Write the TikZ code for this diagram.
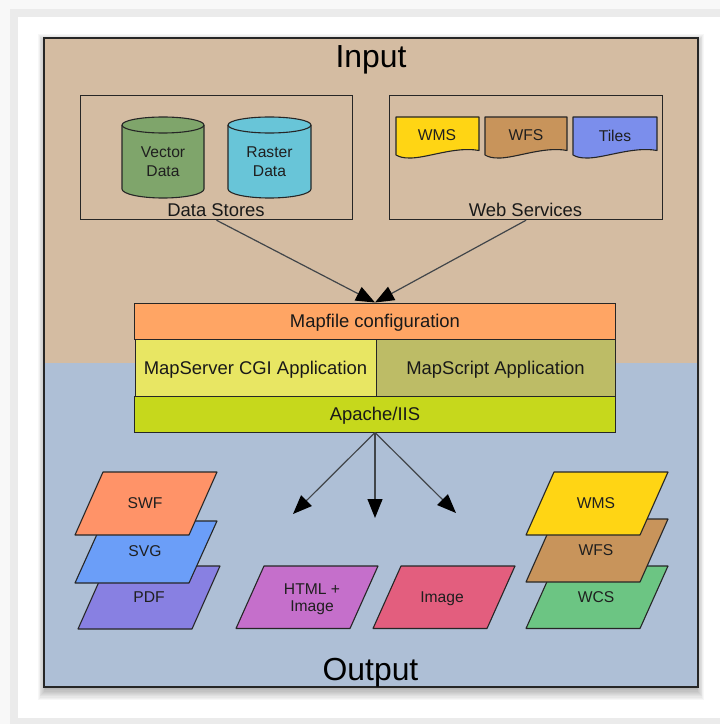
\documentclass[tikz,border=0pt]{standalone}
\usepackage{fontspec}
\setmainfont{Liberation Sans}
\usetikzlibrary{arrows.meta}
\definecolor{pagegray}{HTML}{F8F8F8}
\definecolor{bandgray}{HTML}{EBEBEB}
\definecolor{tanbg}{HTML}{D4BCA2}
\definecolor{bluebg}{HTML}{AEBFD6}
\definecolor{inkc}{HTML}{262626}
\definecolor{cvector}{HTML}{7FA56B}
\definecolor{craster}{HTML}{68C5D8}
\definecolor{cwms}{HTML}{FFD514}
\definecolor{cwfs}{HTML}{C8945B}
\definecolor{ctiles}{HTML}{7B8EEC}
\definecolor{cswf}{HTML}{FF9368}
\definecolor{csvg}{HTML}{6B9EF8}
\definecolor{cpdf}{HTML}{8880E2}
\definecolor{chtml}{HTML}{C56FCB}
\definecolor{cimage}{HTML}{E35E7E}
\definecolor{cwcs}{HTML}{6CC583}
\definecolor{cmapfile}{HTML}{FFA564}
\definecolor{ccgi}{HTML}{E8E663}
\definecolor{cscript}{HTML}{BDBC66}
\definecolor{capache}{HTML}{C6D81C}
\newcommand{\pgram}[8]{% name, xbl, ybottom, ytop, fill, xtext, ytext, text
  \draw[shapeline,fill=#5] (#2,#3) -- (#2+114,#3) -- (#2+142,#4) -- (#2+28,#4) -- cycle;
  \node[smalltext] (#1) at (#6,#7) {#8};}
\newcommand{\cyl}[8]{% name, xl, xr, ytop, ybottom, fill, text line 1, text line 2
  \draw[shapeline,fill=#6] (#2,#4+8) -- (#2,#5-9) arc[x radius={(#3-#2)/2},y radius=9,start angle=180,end angle=0] -- (#3,#4+8) arc[x radius={(#3-#2)/2},y radius=8,start angle=0,end angle=-180] -- cycle;
  \draw[shapeline] (#2,#4+8) arc[x radius={(#3-#2)/2},y radius=8,start angle=180,end angle=0];
  \node[smalltext,align=center,font=\fontsize{15.7}{19}\selectfont] (#1) at ({(#2+#3)/2},161.5) {#7\\#8};}
\newcommand{\docshape}[6]{% name, xl, xr, fill, text, xtext
  \draw[shapeline,fill=#4] (#2,117) -- (#3,117) -- (#3,150.5)
    .. controls ({#2+(#3-#2)*0.72},146) and ({#2+(#3-#2)*0.36},158.5) .. ({#2+(#3-#2)*0.16},158)
    .. controls ({#2+(#3-#2)*0.09},158) and ({#2+(#3-#2)*0.04},157) .. (#2,155) -- cycle;
  \node[smalltext] (#1) at (#6,135.5) {#5};}
\tikzset{
  x=1bp,y=-1bp,
  shapeline/.style={draw=inkc,line width=1.1bp,line join=round},
  boxline/.style={draw=inkc,line width=1bp},
  smalltext/.style={text=black!88,font=\fontsize{15.7}{19}\selectfont,inner sep=0pt},
  labeltext/.style={text=black!90,font=\fontsize{18.5}{22}\selectfont,inner sep=0pt,text height=13.2bp,text depth=0bp},
  titletext/.style={text=black,font=\fontsize{32}{36}\selectfont,inner sep=0pt,text height=23bp,text depth=0bp},
  groupbox/.style={boxline,rectangle,inner sep=0pt,minimum width=272.5bp,minimum height=124.5bp},
  flowarrow/.style={draw=inkc!80!bluebg,line width=1.2bp,-{Triangle[length=19bp,width=15bp,black]}},
  stackbox/.style={boxline,rectangle,inner sep=0pt,text=black!90,font=\fontsize{18.5}{22}\selectfont,text height=13.2bp,text depth=0bp},
}
\begin{document}
\begin{tikzpicture}
\useasboundingbox (0,0) rectangle (720,724);
% page surround
\fill[pagegray] (0,0) rectangle (720,724);
\fill[bandgray] (10,9) rectangle (720,724);
\fill[white] (18,17) rectangle (720,718);
% soft shadow of the panel
\foreach \s in {1,2,...,10}{
  \fill[black,opacity=0.03] ({44+2-\s*0.8},{38+6-\s}) rectangle ({698-2+\s*0.8},{687+1+\s*1.2});
}
% panel
\fill[tanbg] (44,38) rectangle (698,363);
\fill[bluebg] (44,363) rectangle (698,687);
\draw[inkc,line width=1.1bp] (44,38) rectangle (698,687);
\node[titletext] (input) at (371,56.5) {Input};
\node[titletext] (output) at (370.5,669) {Output};
% input groups
\node[groupbox] (stores) at (216.5,157.5) {};
\node[groupbox] (services) at (526,157.5) {};
\node[labeltext] (storeslabel) at (216,209.5) {Data Stores};
\node[labeltext] (serviceslabel) at (525.5,209.5) {Web Services};
\cyl{vector}{122}{204}{117}{198}{cvector}{Vector}{Data}
\cyl{raster}{228}{311}{117}{198}{craster}{Raster}{Data}
\docshape{wmsin}{396}{479}{cwms}{WMS}{437}
\docshape{wfsin}{485}{567}{cwfs}{WFS}{526}
\docshape{tilesin}{573}{657}{ctiles}{Tiles}{615}
% central stack
\node[stackbox,fill=cmapfile,minimum width=480bp,minimum height=36bp] (mapfile) at (375,321) {Mapfile configuration};
\node[stackbox,fill=ccgi,minimum width=241bp,minimum height=57bp] (cgi) at (255.5,367.5) {MapServer CGI Application};
\node[stackbox,fill=cscript,minimum width=239bp,minimum height=57bp] (script) at (495.5,367.5) {MapScript Application};
\node[stackbox,fill=capache,minimum width=480bp,minimum height=36bp] (apache) at (375,414) {Apache/IIS};
% output shapes
\pgram{pdf}{78}{629}{566}{cpdf}{149}{597}{PDF}
\pgram{svg}{75}{583}{521}{csvg}{145}{551}{SVG}
\pgram{swf}{75}{535}{472}{cswf}{145}{503}{SWF}
\pgram{html}{236}{628.5}{566}{chtml}{312}{599}{\begin{tabular}{@{}c@{}}HTML +\\[-1.5bp]Image\end{tabular}}
\pgram{image}{373}{628.5}{566}{cimage}{442}{599}{Image}
\pgram{wcs}{526}{628.5}{566}{cwcs}{596}{597}{WCS}
\pgram{wfsout}{526}{582}{519}{cwfs}{596}{550.5}{WFS}
\pgram{wmsout}{526}{535}{472}{cwms}{596}{503.5}{WMS}
% connectors
\coordinate (tipl) at (293,514);
\coordinate (tipc) at (375,518);
\coordinate (tipr) at (456,513);
\draw[flowarrow] (stores.south) -- (mapfile.north);
\draw[flowarrow] (services.south) -- (mapfile.north);
\draw[flowarrow] (apache.south) -- (tipl);
\draw[flowarrow] (apache.south) -- (tipc);
\draw[flowarrow] (apache.south) -- (tipr);
\end{tikzpicture}
\end{document}
